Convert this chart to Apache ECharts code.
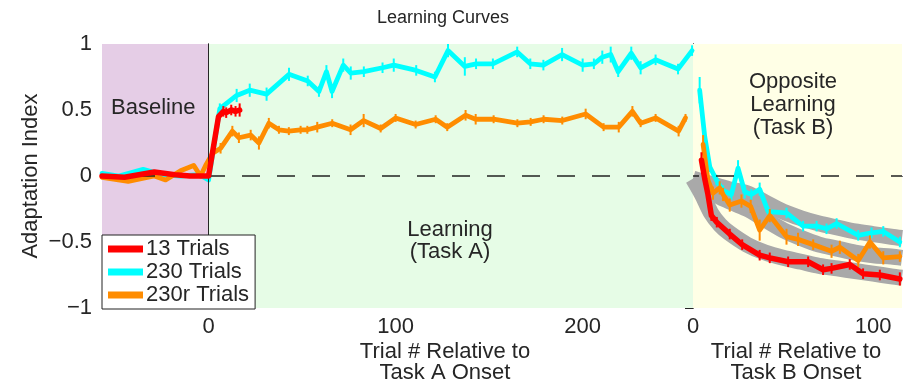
<!DOCTYPE html>
<html><head><meta charset="utf-8">
<script src="https://cdn.jsdelivr.net/npm/echarts@6/dist/echarts.min.js"></script>
<style>html,body{margin:0;padding:0;background:#fff}#c{width:907px;height:383px}</style>
</head><body><div id="c"></div>
<script>
// ---- data ----
const yTicks = [-1, -0.5, 0, 0.5, 1];
const xTicksA = [0, 100, 200];
const xTicksB = [0, 100];
const seriesNames = ['13 Trials', '230 Trials', '230r Trials'];

// Task A panel (baseline + learning)
const redAX = [-57,-45,-29,-18,-10,0,5.3,7.9,9.4,12.1,14.4,16.6];
const redAY = [0.0,-0.01,0.03,0.01,0.0,0.0,0.45,0.49,0.48,0.5,0.49,0.5];
const redAE = [0,0,0,0,0,0,0,0.04,0.04,0.04,0.04,0.05];

const cyanAX = [-57,-48,-35,-25,-15,-5,0,6,15,22,31,43,53,59,63,66,72,76,83,93,99,111,121,128,137,143,152,165,172,179,189,200,206,210.5,215,219,226,231,239,251,258.5];
const cyanAY = [0.02,0.0,0.05,0.01,0.0,0.01,-0.03,0.51,0.61,0.65,0.62,0.77,0.72,0.64,0.79,0.64,0.84,0.78,0.79,0.82,0.84,0.8,0.75,0.95,0.83,0.85,0.85,0.94,0.85,0.84,0.92,0.84,0.85,0.9,0.92,0.79,0.93,0.82,0.88,0.81,0.95];
const cyanAE = [0,0,0,0,0,0,0,0.04,0.05,0.05,0.05,0.05,0.04,0.04,0.05,0.05,0.05,0.05,0.04,0.04,0.05,0.04,0.04,0.05,0.07,0.04,0.04,0.04,0.04,0.04,0.05,0.05,0.04,0.05,0.06,0.04,0.05,0.05,0.04,0.04,0.04];

const orangeAX = [-57,-43,-29,-23,-15,-8,-4.3,-1.6,2,6.4,12.7,16.2,22.5,26.9,32.2,37.6,42.9,49.2,52.8,58.1,66.1,75.9,82.9,92,100,110.7,121.4,127.6,137.4,142.8,152.4,165.1,172.2,179.1,189.1,201.6,211.2,219.3,226.6,231,239,251.3,255];
const orangeAY = [-0.01,-0.04,0.0,-0.03,0.04,0.08,0.0,0.08,0.17,0.21,0.34,0.29,0.31,0.25,0.40,0.35,0.34,0.35,0.35,0.37,0.40,0.35,0.42,0.36,0.44,0.39,0.43,0.37,0.46,0.43,0.43,0.40,0.41,0.43,0.42,0.47,0.37,0.37,0.49,0.40,0.44,0.34,0.44];
const orangeAE = [0,0,0,0,0,0,0,0,0.03,0.04,0.04,0.04,0.04,0.05,0.04,0.03,0.03,0.03,0.03,0.04,0.03,0.04,0.05,0.03,0.03,0.03,0.03,0.03,0.04,0.04,0.03,0.03,0.03,0.03,0.03,0.04,0.03,0.04,0.04,0.03,0.03,0.04,0.03];

// Task B panel (opposite learning)
const cyanBX = [3.7,6.5,9.3,13,16.7,21.3,25,28.7,32.4,37,41.7,51.9,61.1,68.6,74.1,79.7,91.7,99.1,105.6,114.8];
const cyanBY = [0.65,0.30,0.07,-0.03,-0.11,-0.14,0.06,-0.12,-0.14,-0.10,-0.27,-0.28,-0.38,-0.38,-0.40,-0.36,-0.45,-0.43,-0.42,-0.50];
const cyanBE = [0.1,0.05,0.04,0.04,0.04,0.04,0.06,0.05,0.04,0.05,0.04,0.04,0.04,0.04,0.04,0.04,0.04,0.04,0.04,0.04];

const orangeBX = [5.6,8.3,11.1,14.8,16.7,20.4,26.9,32,37,42.6,51.9,58.3,66.7,76.9,81.5,91.7,98.2,105.6,114.8];
const orangeBY = [0.24,-0.03,-0.13,-0.09,-0.14,-0.22,-0.19,-0.23,-0.41,-0.30,-0.46,-0.48,-0.52,-0.57,-0.54,-0.64,-0.50,-0.62,-0.61];
const orangeBE = [0.07,0.05,0.05,0.05,0.05,0.05,0.05,0.05,0.08,0.05,0.06,0.05,0.04,0.05,0.05,0.05,0.05,0.05,0.04];

const redBX = [4.7,6.5,8.3,10.2,13.2,20.4,27.3,37,42.6,52.8,63.9,72.2,76.9,87,94.4,103.7,114.8];
const redBY = [0.12,-0.02,-0.14,-0.30,-0.35,-0.44,-0.52,-0.60,-0.62,-0.65,-0.65,-0.71,-0.70,-0.67,-0.74,-0.75,-0.78];
const redBE = [0.06,0.04,0.04,0.04,0.04,0.04,0.04,0.04,0.04,0.04,0.04,0.04,0.04,0.04,0.04,0.04,0.05];

// grey model bands in Task B panel
const grayX = [0,5,10,15,20,30,40,50,60,70,80,90,100,110,116];
const grayRed = [-0.02,-0.14,-0.28,-0.37,-0.43,-0.52,-0.58,-0.62,-0.65,-0.68,-0.70,-0.72,-0.74,-0.76,-0.77];
const grayOrange = [-0.02,-0.06,-0.11,-0.16,-0.19,-0.25,-0.33,-0.41,-0.47,-0.52,-0.55,-0.58,-0.60,-0.61,-0.62];
const grayCyan = [-0.02,-0.04,-0.06,-0.08,-0.10,-0.13,-0.20,-0.27,-0.32,-0.36,-0.39,-0.42,-0.44,-0.46,-0.47];

// ---- styles ----
const FONT = 'Liberation Sans, Arial, Helvetica, sans-serif';
const FS = 22;
const TXT = '#262626';
const C = {red:'#ff0000', cyan:'#00ffff', orange:'#ff8c00', gray:'#a9a9a9'};
const zip = (xs, ys, es) => xs.map((x, i) => es ? [x, ys[i], es[i]] : [x, ys[i]]);

function lineSeries(name, xs, ys, color, g, z, width) {
  return {type:'line', name, xAxisIndex:g===0?0:2, yAxisIndex:g===0?0:2, data:zip(xs, ys),
    symbol:'none', lineStyle:{color, width:width||4.8, join:'round', cap:'round'}, itemStyle:{color}, z, silent:true, animation:false};
}
function errSeries(xs, ys, es, color, g, z) {
  return {type:'custom', xAxisIndex:g===0?0:2, yAxisIndex:g===0?0:2, data:zip(xs, ys, es), z, silent:true, animation:false,
    encode:{x:0, y:1},
    renderItem(params, api) {
      const x = api.value(0), y = api.value(1), e = api.value(2);
      if (!e) return {type:'group', children:[]};
      const p1 = api.coord([x, y - e]), p2 = api.coord([x, y + e]);
      return {type:'line', shape:{x1:p1[0], y1:p1[1], x2:p2[0], y2:p2[1]}, style:{stroke:color, lineWidth:2}};
    }};
}
function grayBand(ys) {
  return {type:'line', xAxisIndex:2, yAxisIndex:2, data:zip(grayX, ys), symbol:'none', smooth:0.3,
    lineStyle:{color:C.gray, width:16, cap:'butt', join:'round'}, z:1, silent:true, animation:false};
}

const axisLine = {show:true, lineStyle:{color:'#262626', width:1}};
const gA = {left:102, top:44, width:591, height:264};
const gB = {left:693, top:44, width:209, height:264};

const option = {
  animation:false,
  textStyle:{fontFamily:FONT},
  grid:[Object.assign({containLabel:false}, gA), Object.assign({containLabel:false}, gB)],
  legend:{
    data:seriesNames, orient:'vertical', left:102, top:235, icon:'rect', itemWidth:35, itemHeight:7,
    itemGap:1, padding:[3,6,3,6], backgroundColor:'#fff', borderColor:'#222', borderWidth:1, borderRadius:0,
    textStyle:{fontFamily:FONT, fontSize:FS, color:TXT, lineHeight:22, padding:[0,0,0,-2]}, selectedMode:false, z:20
  },
  xAxis:[
    {gridIndex:0, type:'value', min:-57, max:259, position:'bottom', axisLine,
     axisTick:{show:true, inside:true, length:8, customValues:xTicksA, lineStyle:{color:'#262626'}},
     axisLabel:{customValues:xTicksA, fontSize:FS, color:TXT, margin:8, fontFamily:FONT}, splitLine:{show:false}},
    {gridIndex:0, type:'value', min:-57, max:259, position:'top', axisLine,
     axisTick:{show:true, inside:true, length:8, customValues:[100,200], lineStyle:{color:'#262626'}},
     axisLabel:{show:false}, splitLine:{show:false}},
    {gridIndex:1, type:'value', min:0, max:116, position:'bottom', axisLine,
     axisTick:{show:true, inside:true, length:8, customValues:xTicksB, lineStyle:{color:'#262626'}},
     axisLabel:{customValues:xTicksB, fontSize:FS, color:TXT, margin:8, fontFamily:FONT}, splitLine:{show:false}},
    {gridIndex:1, type:'value', min:0, max:116, position:'top', axisLine,
     axisTick:{show:true, inside:true, length:8, customValues:[100], lineStyle:{color:'#262626'}},
     axisLabel:{show:false}, splitLine:{show:false}}
  ],
  yAxis:[
    {gridIndex:0, type:'value', min:-1, max:1, interval:0.5, position:'left', axisLine,
     axisTick:{show:true, inside:true, length:8, lineStyle:{color:'#262626'}},
     axisLabel:{fontSize:FS, color:TXT, margin:10, fontFamily:FONT,
       formatter:v => v < 0 ? '\u2212' + Math.abs(v) : String(v)}, splitLine:{show:false}},
    {gridIndex:0, type:'value', min:-1, max:1, position:'right', axisLine, axisTick:{show:false}, axisLabel:{show:false}, splitLine:{show:false}},
    {gridIndex:1, type:'value', min:-1, max:1, position:'left', axisLine, axisTick:{show:false}, axisLabel:{show:false}, splitLine:{show:false}},
    {gridIndex:1, type:'value', min:-1, max:1, interval:0.5, position:'right', axisLine,
     axisTick:{show:true, inside:true, length:8, lineStyle:{color:'#262626'}}, axisLabel:{show:false}, splitLine:{show:false}}
  ],
  series:[
    // backgrounds
    {type:'line', xAxisIndex:0, yAxisIndex:0, data:[[-57,0]], symbol:'none', lineStyle:{opacity:0}, z:0, silent:true,
     markArea:{silent:true, data:[
       [{coord:[-57,-1], itemStyle:{color:'#e5cde6'}}, {coord:[0,1]}],
       [{coord:[0,-1], itemStyle:{color:'#e6fce6'}}, {coord:[259,1]}]
     ]},
     markLine:{silent:true, symbol:'none', label:{show:false}, lineStyle:{color:'#262626', width:1, type:'solid'},
       data:[{xAxis:0}]}},
    {type:'line', xAxisIndex:2, yAxisIndex:2, data:[[0,0]], symbol:'none', lineStyle:{opacity:0}, z:0, silent:true,
     markArea:{silent:true, data:[[{coord:[0,-1], itemStyle:{color:'#ffffe6'}}, {coord:[116,1]}]]}},
    // grey model bands
    grayBand(grayCyan), grayBand(grayOrange), grayBand(grayRed),
    // Task A panel
    lineSeries('230 Trials', cyanAX, cyanAY, C.cyan, 0, 3),
    errSeries(cyanAX, cyanAY, cyanAE, C.cyan, 0, 3),
    lineSeries('230r Trials', orangeAX, orangeAY, C.orange, 0, 4),
    errSeries(orangeAX, orangeAY, orangeAE, C.orange, 0, 4),
    lineSeries('13 Trials', redAX, redAY, C.red, 0, 5, 5.5),
    errSeries(redAX, redAY, redAE, C.red, 0, 5),
    // Task B panel
    lineSeries('230 Trials', cyanBX, cyanBY, C.cyan, 1, 3),
    errSeries(cyanBX, cyanBY, cyanBE, C.cyan, 1, 3),
    lineSeries('230r Trials', orangeBX, orangeBY, C.orange, 1, 4),
    errSeries(orangeBX, orangeBY, orangeBE, C.orange, 1, 4),
    lineSeries('13 Trials', redBX, redBY, C.red, 1, 5, 5.5),
    errSeries(redBX, redBY, redBE, C.red, 1, 5),
    // dashed zero lines on top
    {type:'line', xAxisIndex:0, yAxisIndex:0, data:[[-57,0]], symbol:'none', lineStyle:{opacity:0}, z:10, silent:true,
     markLine:{silent:true, symbol:'none', label:{show:false}, lineStyle:{color:'#222', width:1.5, type:[18,17]}, data:[{yAxis:0}]}},
    {type:'line', xAxisIndex:2, yAxisIndex:2, data:[[0,0]], symbol:'none', lineStyle:{opacity:0}, z:10, silent:true,
     markLine:{silent:true, symbol:'none', label:{show:false}, lineStyle:{color:'#222', width:1.5, type:[18,17], dashOffset:12}, data:[{yAxis:0}]}}
  ],
  graphic:[
    {type:'text', x:443, y:18, z:100, style:{text:'Learning Curves', align:'center', verticalAlign:'middle', fontSize:18, fontFamily:FONT, fill:TXT}},
    {type:'text', x:31, y:176, rotation:Math.PI/2, z:100, style:{text:'Adaptation Index', align:'center', verticalAlign:'middle', fontSize:FS, fontFamily:FONT, fill:TXT}},
    {type:'text', x:111, y:108, z:100, style:{text:'Baseline', align:'left', verticalAlign:'middle', fontSize:FS, fontFamily:FONT, fill:TXT}},
    {type:'text', x:450, y:241, z:100, style:{text:'Learning\n(Task A)', align:'center', verticalAlign:'middle', lineHeight:22, fontSize:FS, fontFamily:FONT, fill:TXT}},
    {type:'text', x:793, y:105, z:100, style:{text:'Opposite\nLearning\n(Task B)', align:'center', verticalAlign:'middle', lineHeight:23, fontSize:FS, fontFamily:FONT, fill:TXT}},
    {type:'text', x:445, y:362, z:100, style:{text:'Trial # Relative to\nTask A Onset', align:'center', verticalAlign:'middle', lineHeight:21, fontSize:FS, fontFamily:FONT, fill:TXT}},
    {type:'text', x:796, y:362, z:100, style:{text:'Trial # Relative to\nTask B Onset', align:'center', verticalAlign:'middle', lineHeight:21, fontSize:FS, fontFamily:FONT, fill:TXT}}
  ]
};
const chart = echarts.init(document.getElementById('c'), null, {renderer:'canvas'});
chart.setOption(option);
</script>
</body></html>
